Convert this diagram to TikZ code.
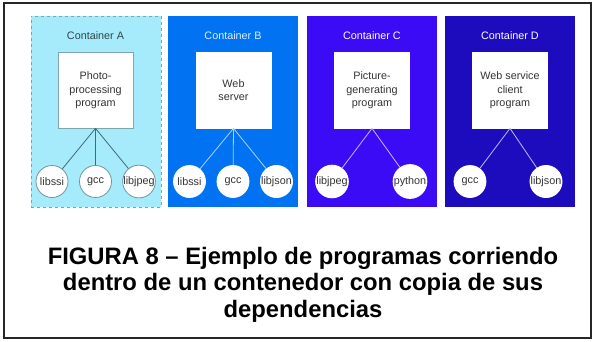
\documentclass[tikz,border=0pt]{standalone}
\usepackage{fontspec}
\setmainfont{Liberation Sans}
\definecolor{cAfill}{HTML}{A6EBFB}
\definecolor{cAedge}{HTML}{7FA6AE}
\definecolor{cAline}{HTML}{3E6D73}
\definecolor{cAtext}{HTML}{33434A}
\definecolor{cBfill}{HTML}{0072F2}
\definecolor{cBline}{HTML}{A8D2FF}
\definecolor{cBtext}{HTML}{DDEFFF}
\definecolor{cCfill}{HTML}{3A0BF4}
\definecolor{cCline}{HTML}{C8B8FF}
\definecolor{cDfill}{HTML}{1C0CBE}
\definecolor{cDline}{HTML}{BCBCF0}
\definecolor{txt}{HTML}{333333}
\begin{document}
\begin{tikzpicture}[x=1pt,y=-1pt,
  cont/.style={minimum width=130pt, minimum height=191.5pt, inner sep=0pt, anchor=north west},
  clabel/.style={anchor=base, inner sep=0pt, font=\fontsize{10.8}{13}\selectfont, text=white},
  prog/.style={draw=white, fill=white, line width=0.6pt, minimum width=75pt, minimum height=75.5pt,
    inner sep=0pt, align=center, font=\fontsize{10.8}{13.4}\selectfont, text=txt},
  lib/.style={circle, draw=white, fill=white, line width=0.8pt, minimum size=32pt, inner sep=0pt,
    font=\fontsize{10.8}{13}\selectfont, text=txt},
  link/.style={line width=0.8pt}
]
\useasboundingbox (0,0) rectangle (595,341);
\fill[white] (0,0) rectangle (595,341);
\draw[line width=1.6pt, black!85] (4,3) rectangle (591,338);

% Container A
\node[cont, fill=cAfill, draw=cAedge, dashed, line width=0.8pt] (contA) at (30.5,15.5) {};
\node[clabel, text=cAtext] (labA) at (95.5,39) {Container A};
\node[prog, draw=cAedge] (progA) at (95.5,90.3) {Photo-\\processing\\program};
\node[lib, draw=cAedge!90!black] (a1) at (52,181.5) {libssi};
\node[lib, draw=cAedge!90!black] (a2) at (95.5,181.5) {gcc};
\node[lib, draw=cAedge!90!black] (a3) at (139,181.5) {libjpeg};
\foreach \n in {a1,a2,a3} \draw[link, cAline] (progA.south) -- (\n);

% Container B
\node[cont, fill=cBfill] (contB) at (168,15.5) {};
\node[clabel, text=cBtext] (labB) at (233,39) {Container B};
\node[prog] (progB) at (233.5,90.3) {Web\\server};
\node[lib] (b1) at (189.5,181.5) {libssi};
\node[lib] (b2) at (233,181.5) {gcc};
\node[lib] (b3) at (276.5,181.5) {libjson};
\foreach \n in {b1,b2,b3} \draw[link, cBline] (progB.south) -- (\n);

% Container C
\node[cont, fill=cCfill] (contC) at (307,15.5) {};
\node[clabel] (labC) at (372,39) {Container C};
\node[prog] (progC) at (372,90.3) {Picture-\\generating\\program};
\node[lib] (c1) at (332,181.5) {libjpeg};
\node[lib] (c2) at (410,181.5) {python};
\foreach \n in {c1,c2} \draw[link, cCline] (progC.south) -- (\n);

% Container D
\node[cont, fill=cDfill] (contD) at (445,15.5) {};
\node[clabel] (labD) at (510,39) {Container D};
\node[prog] (progD) at (510,90.3) {Web service\\client\\program};
\node[lib] (d1) at (470,181.5) {gcc};
\node[lib] (d2) at (546,181.5) {libjson};
\foreach \n in {d1,d2} \draw[link, cDline] (progD.south) -- (\n);

% Caption
\node[anchor=north, align=center, inner sep=0pt, font=\bfseries\fontsize{23.8}{26.5}\selectfont] (cap) at (303,247)
  {FIGURA 8 – Ejemplo de programas corriendo\\dentro de un contenedor con copia de sus\\dependencias};
\end{tikzpicture}
\end{document}
